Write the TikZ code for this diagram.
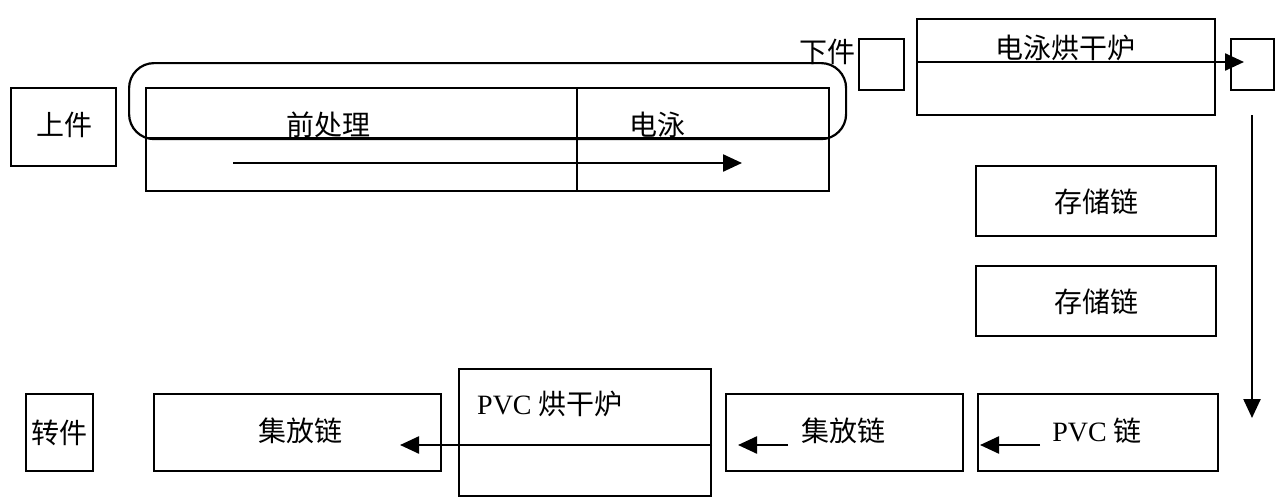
\documentclass[tikz,border=0pt]{standalone}
\usepackage{fontspec}
\setmainfont{Liberation Serif}
\newfontfamily\cjk{Noto Sans CJK SC}
\usetikzlibrary{arrows.meta}
\begin{document}
\begin{tikzpicture}[x=1pt,y=-1pt,
  box/.style={draw, line width=2.2pt, inner sep=0pt, anchor=north west},
  lbl/.style={font=\cjk\fontsize{28}{30}\selectfont, inner sep=0pt},
  arr/.style={line width=2.4pt, -{Triangle[length=19pt,width=17pt]}}]
\useasboundingbox (0,0) rectangle (1279,498);
% top row
\node[box, minimum width=105pt, minimum height=78pt] (shang) at (10,87) {};
\node[lbl] (shangt) at (64,125) {上件};
\node[box, rounded corners=25pt, minimum width=717pt, minimum height=76pt] (loop) at (128,62) {};
\node[box, minimum width=431pt, minimum height=103pt] (qcl) at (145,87) {};
\node[box, minimum width=252pt, minimum height=103pt] (dy) at (576,87) {};
\draw[line width=1.4pt] (145,138) -- (828,138);
\node[lbl] (qclt) at (328,125) {前处理};
\node[lbl] (dyt) at (657,125) {电泳};
\coordinate (a1s) at (233,163);
\coordinate (a1e) at (742,163);
\draw[arr] (a1s) -- (a1e);
\node[lbl, anchor=east] (xia) at (856,52) {下件};
\node[box, minimum width=45pt, minimum height=51pt] (sb1) at (858,38) {};
\node[box, minimum width=298pt, minimum height=96pt] (ddh) at (916,18) {};
\node[lbl] (ddht) at (1065,48) {电泳烘干炉};
\node[box, minimum width=43pt, minimum height=51pt] (sb2) at (1230,38) {};
\draw[arr] (ddh.west |- 0,62) -- (sb2.west |- 0,62) -- ++(14,0);
\coordinate (vs) at (1252,115);
\coordinate (ve) at (1252,418);
\draw[arr] (vs) -- (ve);
\node[box, minimum width=240pt, minimum height=70pt] (cc1) at (975,165) {};
\node[lbl] (cc1t) at (1096,202) {存储链};
\node[box, minimum width=240pt, minimum height=70pt] (cc2) at (975,265) {};
\node[lbl] (cc2t) at (1096,302) {存储链};
% bottom row
\node[box, minimum width=67pt, minimum height=77pt] (zj) at (25,393) {};
\node[lbl] (zjt) at (zj.center) {转件};
\node[box, minimum width=287pt, minimum height=77pt] (jf1) at (153,393) {};
\node[lbl] (jf1t) at (300,431) {集放链};
\node[box, minimum width=252pt, minimum height=127pt] (pvc) at (458,368) {};
\node[lbl, anchor=west] (pvct) at (477,404) {\rmfamily PVC \cjk 烘干炉};
\draw[line width=2.2pt] (458,445) -- (710,445);
\coordinate (a2e) at (400,445);
\draw[arr] (pvc.east |- 0,445) -- (a2e);
\node[box, minimum width=237pt, minimum height=77pt] (jf2) at (725,393) {};
\node[lbl] (jf2t) at (843,431) {集放链};
\coordinate (a3s) at (788,445);
\coordinate (a3e) at (738,445);
\draw[arr] (a3s) -- (a3e);
\node[box, minimum width=240pt, minimum height=77pt] (pvcl) at (977,393) {};
\node[lbl] (pvclt) at (1097,431) {\rmfamily PVC \cjk 链};
\coordinate (a4s) at (1040,445);
\coordinate (a4e) at (980,445);
\draw[arr] (a4s) -- (a4e);
\end{tikzpicture}
\end{document}
